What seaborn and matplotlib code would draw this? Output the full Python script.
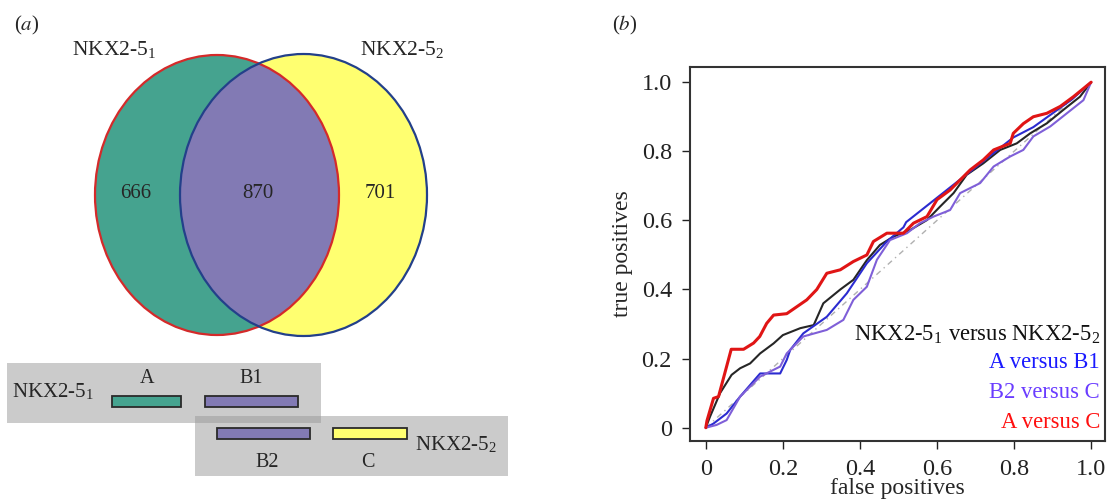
import numpy as np
import pandas as pd
import matplotlib
matplotlib.use("Agg")
import matplotlib.pyplot as plt
import seaborn as sns
from matplotlib.patches import Ellipse, Rectangle

# ---------------- data ----------------
set_labels = ["NKX2-5$_{\\mathregular{1}}$", "NKX2-5$_{\\mathregular{2}}$"]
venn_counts = [666, 870, 701]          # only set1, shared, only set2
region_names = ["A", "B1", "B2", "C"]

series_names = ["NKX2-5$_{\\mathregular{1}}$ versus NKX2-5$_{\\mathregular{2}}$",
                "A versus B1", "B2 versus C", "A versus C"]

fp_black = [0, 0.011, 0.037, 0.067, 0.089, 0.115, 0.141, 0.176, 0.200, 0.245, 0.280,
            0.305, 0.349, 0.383, 0.418, 0.452, 0.487, 0.530, 0.574, 0.608, 0.643,
            0.677, 0.720, 0.764, 0.807, 0.842, 0.885, 0.928, 0.971, 1.0]
tp_black = [0, 0.032, 0.100, 0.153, 0.172, 0.186, 0.215, 0.244, 0.268, 0.288, 0.297,
            0.360, 0.400, 0.428, 0.485, 0.529, 0.553, 0.572, 0.601, 0.640, 0.679,
            0.732, 0.765, 0.804, 0.823, 0.852, 0.881, 0.920, 0.958, 1.0]

fp_blue = [0, 0.020, 0.054, 0.089, 0.141, 0.193, 0.210, 0.219, 0.253, 0.314, 0.366,
           0.418, 0.470, 0.513, 0.520, 0.798, 0.850, 0.900, 0.950, 1.0]
tp_blue = [0, 0.012, 0.041, 0.090, 0.157, 0.157, 0.196, 0.225, 0.273, 0.321, 0.389,
           0.476, 0.539, 0.580, 0.595, 0.840, 0.870, 0.910, 0.950, 1.0]

fp_purple = [0, 0.028, 0.054, 0.089, 0.141, 0.193, 0.210, 0.253, 0.314, 0.357, 0.383,
             0.418, 0.444, 0.478, 0.522, 0.556, 0.591, 0.634, 0.660, 0.712, 0.747,
             0.790, 0.824, 0.850, 0.894, 0.937, 0.980, 1.0]
tp_purple = [0, 0.008, 0.022, 0.090, 0.148, 0.177, 0.215, 0.264, 0.283, 0.312, 0.370,
             0.408, 0.486, 0.543, 0.563, 0.592, 0.611, 0.630, 0.679, 0.708, 0.756,
             0.785, 0.804, 0.843, 0.872, 0.910, 0.948, 1.0]

fp_red = [0, 0.003, 0.020, 0.033, 0.066, 0.098, 0.124, 0.140, 0.158, 0.176, 0.210,
          0.236, 0.262, 0.288, 0.314, 0.349, 0.383, 0.418, 0.435, 0.470, 0.513,
          0.539, 0.574, 0.600, 0.634, 0.660, 0.686, 0.720, 0.747, 0.790, 0.798,
          0.824, 0.850, 0.885, 0.920, 0.954, 0.976, 1.0]
tp_red = [0, 0.020, 0.085, 0.090, 0.227, 0.227, 0.245, 0.264, 0.302, 0.326, 0.330,
          0.350, 0.370, 0.400, 0.447, 0.457, 0.481, 0.500, 0.539, 0.563, 0.563,
          0.592, 0.611, 0.660, 0.688, 0.717, 0.746, 0.775, 0.804, 0.823, 0.852,
          0.880, 0.900, 0.910, 0.930, 0.958, 0.978, 1.0]

ticks = [0, 0.2, 0.4, 0.6, 0.8, 1.0]
tick_labels = ["0", "0.2", "0.4", "0.6", "0.8", "1.0"]

# ---------------- style ----------------
sns.set_style("ticks")
plt.rcParams["font.family"] = ["Liberation Serif", "DejaVu Serif"]
plt.rcParams["mathtext.fontset"] = "stix"

line_colors = ["#262626", "#2b2bd0", "#7f5fd8", "#e01515"]
text_colors = ["#111111", "#1a1aff", "#6a3cff", "#ff1010"]

fig = plt.figure(figsize=(11.07, 5.03), dpi=100)
W, H = 1107, 503

# ---------------- panel (a) ----------------
axa = fig.add_axes([0, 0, 600 / W, 1])
axa.set_xlim(0, 600)
axa.set_ylim(503, 0)
axa.axis("off")

teal, purple, yellow = "#45a38f", "#827ab4", "#ffff70"
left = Ellipse((217, 195), 244, 280, facecolor=teal, edgecolor="none")
right = Ellipse((303.5, 195), 247, 282, facecolor=yellow, edgecolor="none")
axa.add_patch(left)
axa.add_patch(right)
inter = Ellipse((303.5, 195), 247, 282, facecolor=purple, edgecolor="none")
axa.add_patch(inter)
inter.set_clip_path(left)
axa.add_patch(Ellipse((217, 195), 244, 280, facecolor="none", edgecolor="#d42a2a", lw=1.6))
axa.add_patch(Ellipse((303.5, 195), 247, 282, facecolor="none", edgecolor="#23408a", lw=1.6))

for xpos, val in zip([136, 258, 380], venn_counts):
    axa.text(xpos, 193, str(val), ha="center", va="center", fontsize=15)
axa.text(72, 55, set_labels[0], ha="left", va="baseline", fontsize=15.5)
axa.text(360, 55, set_labels[1], ha="left", va="baseline", fontsize=15.5)
axa.text(14, 25, "($a$)", ha="left", va="center", fontsize=15)

# lower diagram
axa.add_patch(Rectangle((7, 363), 314, 60, facecolor=(0.6, 0.6, 0.6), alpha=0.5, edgecolor="none"))
axa.add_patch(Rectangle((195, 416), 313, 60, facecolor=(0.6, 0.6, 0.6), alpha=0.5, edgecolor="none"))
bar_specs = [((112, 396), 69, teal), ((205, 396), 93, purple),
             ((217, 428), 93, purple), ((333, 428), 74, yellow)]
for (xy, w, c) in bar_specs:
    axa.add_patch(Rectangle(xy, w, 11, facecolor=c, edgecolor="#2a2a2a", lw=1.3))
axa.text(12, 397, set_labels[0], ha="left", va="baseline", fontsize=15)
axa.text(415, 450, set_labels[1], ha="left", va="baseline", fontsize=15)
for (xc, yb), name in zip([(147, 383), (251, 383), (267, 467), (368, 467)], region_names):
    axa.text(xc, yb, name, ha="center", va="baseline", fontsize=14.5)

# ---------------- panel (b) ----------------
ax = fig.add_axes([690 / W, (503 - 441) / H, 415 / W, 374 / H])
rows = []
for name, xs, ys in zip(series_names,
                        [fp_black, fp_blue, fp_purple, fp_red],
                        [tp_black, tp_blue, tp_purple, tp_red]):
    for x, y in zip(xs, ys):
        rows.append({"fp": x, "tp": y, "series": name})
df = pd.DataFrame(rows)

ax.plot([0, 1], [0, 1], color="#b0b0b0", ls=(0, (4, 3, 1, 3)), lw=1.0, zorder=1)
lws = [1.5, 1.5, 1.5, 2.2]
for i, (name, col) in enumerate(zip(series_names, line_colors)):
    sub = df[df["series"] == name]
    sns.lineplot(data=sub, x="fp", y="tp", ax=ax, color=col, lw=lws[i],
                 estimator=None, sort=False, legend=False, zorder=3 if i == 3 else 2)

ax.set_xlim(-0.041, 1.036)
ax.set_ylim(-0.0385, 1.044)
ax.set_xticks(ticks)
ax.set_xticklabels(tick_labels)
ax.set_yticks(ticks)
ax.set_yticklabels(tick_labels)
ax.tick_params(axis="both", direction="out", length=6, width=1.0, pad=7, labelsize=17.5, colors="#222222")
for s in ax.spines.values():
    s.set_linewidth(1.5)
    s.set_color("#333333")
ax.set_xlabel("false positives", fontsize=17)
ax.set_ylabel("true positives", fontsize=17)
ax.xaxis.set_label_coords(0.5, -0.1)
ax.yaxis.set_label_coords(-0.137, 0.5)

for name, col, yb in zip(series_names, text_colors, [0.253, 0.172, 0.085, -0.002]):
    ax.text(1.023, yb, name, ha="right", va="baseline", fontsize=16.3, color=col)

fig.text(612 / W, 1 - 25 / H, "($b$)", ha="left", va="center", fontsize=15)

fig.savefig("out.png", dpi=100)
